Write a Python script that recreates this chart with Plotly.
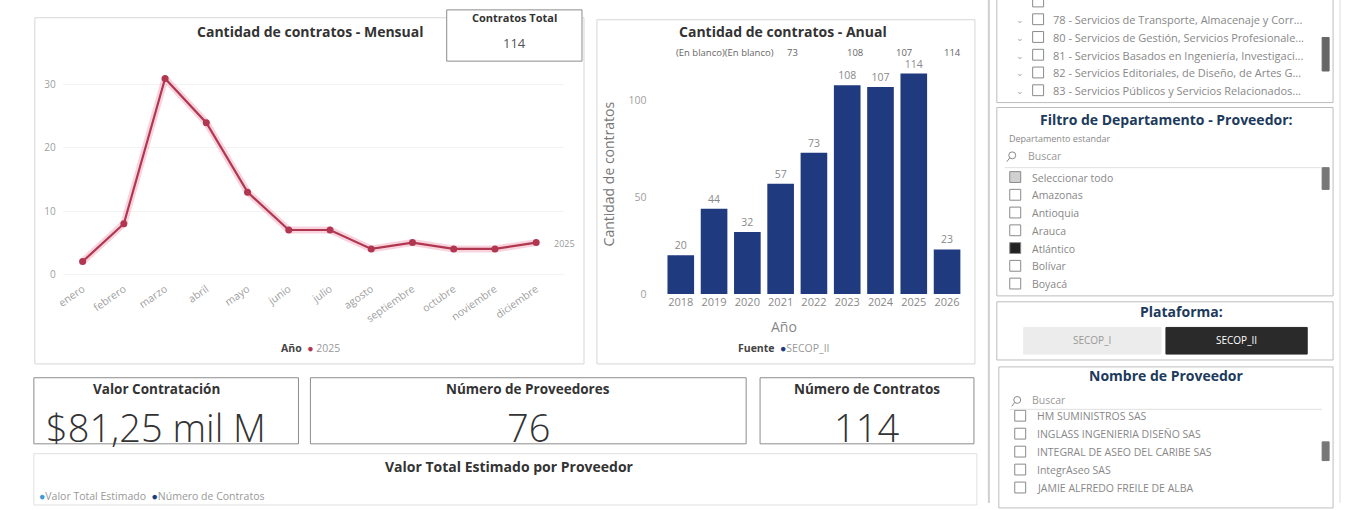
import plotly.graph_objects as go

# ---------------- data ----------------
months = ["enero", "febrero", "marzo", "abril", "mayo", "junio", "julio",
          "agosto", "septiembre", "octubre", "noviembre", "diciembre"]
monthly_counts = [2, 8, 31, 24, 13, 7, 7, 4, 5, 4, 4, 5]
series_year = "2025"

years = ["2018", "2019", "2020", "2021", "2022", "2023", "2024", "2025", "2026"]
yearly_counts = [20, 44, 32, 57, 73, 108, 107, 114, 23]
top_row_labels = ["(En blanco)(En blanco)", "73", "108", "107", "114"]

kpi_titles = ["Valor Contratación", "Número de Proveedores", "Número de Contratos"]
kpi_values = ["$81,25 mil M", "76", "114"]
total_contracts = "114"

segment_items = ["78 - Servicios de Transporte, Almacenaje y Corr...",
                 "80 - Servicios de Gestión, Servicios Profesionale...",
                 "81 - Servicios Basados en Ingeniería, Investigaci...",
                 "82 - Servicios Editoriales, de Diseño, de Artes G...",
                 "83 - Servicios Públicos y Servicios Relacionados..."]
departments = ["Seleccionar todo", "Amazonas", "Antioquia", "Arauca", "Atlántico", "Bolívar", "Boyacá"]
platforms = ["SECOP_I", "SECOP_II"]
providers = ["HM SUMINISTROS SAS", "INGLASS INGENIERIA DISEÑO SAS",
             "INTEGRAL DE ASEO DEL CARIBE SAS", "IntegrAseo SAS",
             "JAMIE ALFREDO FREILE DE ALBA"]

# ---------------- helpers ----------------
W, H = 1348, 510
FONT = "Open Sans"
LINE_C = "#b0374f"
BAR_C = "#1f3a7f"
NAVY_T = "#203a5c"


def X(px):
    return px / W


def Y(py):
    return 1 - py / H


fig = go.Figure()
shapes = []
ann = []


def rect(x0, y0, x1, y1, line="#d6d6d6", fill="rgba(0,0,0,0)", width=1):
    shapes.append(dict(type="rect", xref="paper", yref="paper",
                       x0=X(x0), x1=X(x1), y0=Y(y1), y1=Y(y0),
                       line=dict(color=line, width=width), fillcolor=fill, layer="below"))


def line(x0, y0, x1, y1, color="#d6d6d6", width=1):
    shapes.append(dict(type="line", xref="paper", yref="paper",
                       x0=X(x0), x1=X(x1), y0=Y(y0), y1=Y(y1),
                       line=dict(color=color, width=width)))


def text(px, py, s, size=10, color="#666", xanchor="center", bold=False, weight=None, angle=0, family=FONT):
    f = dict(family=family, size=size, color=color)
    if bold:
        f["weight"] = "bold"
    if weight:
        f["weight"] = weight
    ann.append(dict(xref="paper", yref="paper", x=X(px), y=Y(py), text=s, showarrow=False,
                    xanchor=xanchor, yanchor="middle", font=f, textangle=angle))


# ---------------- monthly line chart ----------------
fig.add_trace(go.Scatter(x=months, y=monthly_counts, mode="lines",
                         line=dict(color="rgba(235,130,160,0.35)", width=7),
                         hoverinfo="skip", showlegend=False, xaxis="x", yaxis="y"))
fig.add_trace(go.Scatter(x=months, y=monthly_counts, mode="lines+markers", name=series_year,
                         line=dict(color=LINE_C, width=2.2),
                         marker=dict(color=LINE_C, size=7), showlegend=False,
                         xaxis="x", yaxis="y", cliponaxis=False))

sp = 41.45
x_lo = (56 - 76) / sp
x_hi = (560 - 76) / sp
fig.update_layout(
    xaxis=dict(domain=[X(56), X(560)], range=[x_lo, x_hi], type="category",
               tickangle=-35, tickfont=dict(size=10.5, color="#a0a0a0", family=FONT),
               showgrid=False, zeroline=False, showline=False, ticks=""),
    yaxis=dict(domain=[Y(284), Y(70)], range=[(278 - 284) / 6.4, (278 - 70) / 6.4],
               tickvals=[0, 10, 20, 30], tickfont=dict(size=10, color="#a0a0a0", family=FONT),
               showgrid=True, gridcolor="#f3f3f3", zeroline=False, showline=False,
               ticklabelstandoff=6),
)

# ---------------- yearly bar chart ----------------
bsp = 33.46
fig.add_trace(go.Bar(x=years, y=yearly_counts, marker=dict(color=BAR_C, line=dict(width=0)),
                     width=0.8, text=[str(v) for v in yearly_counts], textposition="outside",
                     textfont=dict(size=10.5, color="#8a8a8a", family=FONT), cliponaxis=False,
                     showlegend=False, xaxis="x2", yaxis="y2"))
fig.update_layout(
    xaxis2=dict(domain=[X(660), X(962)], range=[(660 - 677.3) / bsp, (962 - 677.3) / bsp],
                type="category", anchor="y2", tickfont=dict(size=11, color="#8a8a8a", family=FONT),
                showgrid=False, zeroline=False, showline=False, ticks=""),
    yaxis2=dict(domain=[Y(298), Y(60)], range=[0, (298 - 60) / 1.96], anchor="x2",
                tickvals=[0, 50, 100], tickfont=dict(size=10.5, color="#a0a0a0", family=FONT),
                showgrid=False, zeroline=False, showline=False, ticklabelstandoff=16),
)

# ---------------- panels ----------------
rect(28, 18, 580, 369)               # monthly panel
rect(593, 20, 973, 369)              # annual panel
rect(442, 10, 578, 62, line="#8c8c8c", fill="white")  # contratos total card
rect(27, 383, 293, 450, line="#8c8c8c")
rect(305, 383, 743, 450, line="#8c8c8c")
rect(757, 383, 972, 450, line="#8c8c8c")
rect(27, 460, 975, 512, line="#e0e0e0")
line(987, 0, 987, 510, color="#d0d0d0", width=2)
line(1340, 0, 1340, 510, color="#dcdcdc", width=1)
rect(995, -2, 1333, 104, line="#bdbdbd")
rect(995, 109, 1333, 300, line="#bdbdbd")
rect(995, 306, 1333, 365, line="#bdbdbd")
rect(997, 372, 1333, 515, line="#bdbdbd")

# titles
text(305, 32, "Cantidad de contratos - Mensual", size=14, color="#333", bold=True)
text(780, 32, "Cantidad de contratos - Anual", size=14, color="#333", bold=True)
text(510, 18, "Contratos Total", size=11, color="#333", bold=True)
text(510, 44, total_contracts, size=13, color="#555")

# monthly extras
text(548, 247, series_year, size=9, color="#9a9a9a", xanchor="left")
text(305, 353, f"<b>Año</b>  <span style='color:{LINE_C}'>●</span> <span style='color:#999'>{series_year}</span>",
     size=10.5, color="#444")

# annual extras
tops_x = [722, 790, 852, 902, 950]
for px, s in zip(tops_x, top_row_labels):
    text(px, 53, s, size=9.5, color="#666")
text(605, 176, "Cantidad de contratos", size=14, color="#777", angle=-90)
text(781, 331, "Año", size=14, color="#888")
text(781, 353, f"<b>Fuente</b>  <span style='color:{BAR_C}'>●</span><span style='color:#999'>SECOP_II</span>",
     size=10.5, color="#444")

# KPI cards
kpi_cx = [150, 524, 864]
for cx, t, v in zip(kpi_cx, kpi_titles, kpi_values):
    text(cx, 394, t, size=13.5, color="#333", bold=True)
    text(cx, 433, v, size=38, color="#333", weight=300)

text(505, 473, "Valor Total Estimado por Proveedor", size=14, color="#333", bold=True)
text(30, 503, "<span style='color:#3b9ad9'>●</span>Valor Total Estimado  "
              f"<span style='color:{BAR_C}'>●</span>Número de Contratos", size=10.5, color="#999", xanchor="left")


def checkbox(px, py, checked=False, partial=False):
    fill = "#222" if checked else ("#d0d0d0" if partial else "white")
    rect(px, py - 6, px + 11, py + 5, line="#8a8a8a", fill=fill)


def search(px, py):
    shapes.append(dict(type="circle", xref="paper", yref="paper",
                       x0=X(px + 2), x1=X(px + 9), y0=Y(py + 3), y1=Y(py - 4),
                       line=dict(color="#888", width=1)))
    line(px + 3, py + 2, px, py + 6, color="#888", width=1)


# segment list (top right)
checkbox(1031, 2)
for i, s in enumerate(segment_items):
    py = 20 + i * 18
    text(1018, py, "⌄", size=9, color="#aaa")
    checkbox(1031, py)
    text(1049, py, s, size=11, color="#888", xanchor="left")
rect(1322, 38, 1329, 72, line="#666", fill="#666")

# departamento filter
text(1166, 121, "Filtro de Departamento - Proveedor:", size=14, color=NAVY_T, bold=True)
text(1005, 140, "Departamento estandar", size=9, color="#888", xanchor="left")
search(1005, 158)
text(1024, 158, "Buscar", size=10.5, color="#999", xanchor="left")
line(1003, 170, 1322, 170, color="#e0e0e0")
for i, d in enumerate(departments):
    py = 180 + i * 18
    checkbox(1008, py, checked=(d == "Atlántico"), partial=(i == 0))
    text(1028, py, d, size=10.5, color="#888", xanchor="left")
rect(1322, 170, 1329, 192, line="#777", fill="#777")

# plataforma
text(1181, 316, "Plataforma:", size=14, color=NAVY_T, bold=True)
rect(1022, 332, 1160, 359, line="#ececec", fill="#ececec")
rect(1165, 332, 1307, 359, line="#2a2a2a", fill="#2a2a2a")
text(1091, 345, platforms[0], size=10, color="#999")
text(1236, 345, platforms[1], size=10, color="white")

# proveedor list
text(1166, 381, "Nombre de Proveedor", size=14, color=NAVY_T, bold=True)
search(1010, 406)
text(1028, 406, "Buscar", size=10.5, color="#999", xanchor="left")
line(1008, 415, 1322, 415, color="#e0e0e0")
for i, p in enumerate(providers):
    py = 422 + i * 18.2
    checkbox(1013, py)
    text(1033, py, p, size=10.5, color="#888", xanchor="left")
rect(1322, 448, 1329, 467, line="#777", fill="#777")

fig.update_layout(
    width=W, height=H, margin=dict(l=0, r=0, t=0, b=0),
    paper_bgcolor="white", plot_bgcolor="rgba(0,0,0,0)",
    shapes=shapes, annotations=ann, showlegend=False,
    font=dict(family=FONT), bargap=0.2,
)

fig.write_html("out.html", config={"displayModeBar": False},
               post_script="document.body.style.margin='0';document.body.style.overflow='hidden';")
